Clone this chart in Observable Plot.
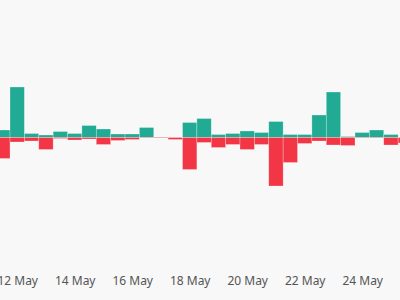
<!DOCTYPE html>
<html>
<head>
<meta charset="utf-8">
<script src="https://cdn.jsdelivr.net/npm/d3@7"></script>
<script src="https://cdn.jsdelivr.net/npm/@observablehq/plot@0.6"></script>
<style>
  html, body { margin: 0; padding: 0; background: #f8f8f8; }
  #chart { width: 400px; height: 300px; overflow: hidden; }
</style>
</head>
<body>
<div id="chart"></div>
<script>
// 12-hour periods, starting 11 May 12:00 UTC
const periods = [
  "2024-05-11T12:00Z","2024-05-12T00:00Z","2024-05-12T12:00Z","2024-05-13T00:00Z",
  "2024-05-13T12:00Z","2024-05-14T00:00Z","2024-05-14T12:00Z","2024-05-15T00:00Z",
  "2024-05-15T12:00Z","2024-05-16T00:00Z","2024-05-16T12:00Z","2024-05-17T00:00Z",
  "2024-05-17T12:00Z","2024-05-18T00:00Z","2024-05-18T12:00Z","2024-05-19T00:00Z",
  "2024-05-19T12:00Z","2024-05-20T00:00Z","2024-05-20T12:00Z","2024-05-21T00:00Z",
  "2024-05-21T12:00Z","2024-05-22T00:00Z","2024-05-22T12:00Z","2024-05-23T00:00Z",
  "2024-05-23T12:00Z","2024-05-24T00:00Z","2024-05-24T12:00Z","2024-05-25T00:00Z",
  "2024-05-25T12:00Z"
];
// inflows (up, green)
const inflows = [7.5, 50.5, 4, 2.5, 6, 4, 12, 8.5, 3.5, 3.5, 10, 0.5, 0, 15, 19, 3, 4, 6.5, 5, 16, 3, 3, 22.5, 45.5, 1, 5, 7.5, 3, 0];
// outflows (down, red)
const outflows = [21, 4.5, 3.5, 12, 1, 2.5, 1.5, 7, 3, 2, 0.5, 0.5, 2, 32, 5, 10, 7, 12, 7, 48.5, 25, 6, 3.5, 7.5, 8, 0.5, 0.5, 7.5, 5.5];
const tickLabels = ["2024-05-12","2024-05-14","2024-05-16","2024-05-18","2024-05-20","2024-05-22","2024-05-24"];

const HALF = 6 * 3600 * 1000;
const rows = periods.map((p, i) => {
  const t = new Date(p);
  return {x1: new Date(+t - HALF), x2: new Date(+t + HALF), inflow: inflows[i], outflow: -outflows[i]};
});
const ticks = tickLabels.map(d => new Date(d + "T00:00Z"));

const DAY = 86400000;
const ref = +new Date("2024-05-12T00:00Z");
const pxPerDay = 28.75;
const x0 = 17.2;
const domainX = [new Date(ref - x0 / pxPerDay * DAY), new Date(ref + (400 - x0) / pxPerDay * DAY)];

const chart = Plot.plot({
  width: 400,
  height: 300,
  marginTop: 0,
  marginBottom: 30,
  marginLeft: 0,
  marginRight: 0,
  style: {background: "#f8f8f8", fontFamily: "'Noto Sans', sans-serif", overflow: "hidden"},
  x: {type: "utc", domain: domainX},
  y: {domain: [-132.5, 137.5], axis: null},
  marks: [
    Plot.rectY(rows, {x1: "x1", x2: "x2", y: "inflow", fill: "#22ab94", stroke: "#ffffff", strokeOpacity: 0.45, strokeWidth: 0.6}),
    Plot.rectY(rows, {x1: "x1", x2: "x2", y: "outflow", fill: "#f23645", stroke: "#ffffff", strokeOpacity: 0.45, strokeWidth: 0.6}),
    Plot.axisX({ticks: ticks, tickSize: 0, tickPadding: 6, tickFormat: d3.utcFormat("%-d %b"), fontSize: 12, fill: "#555", label: null})
  ]
});
document.getElementById("chart").appendChild(chart);
</script>
</body>
</html>
